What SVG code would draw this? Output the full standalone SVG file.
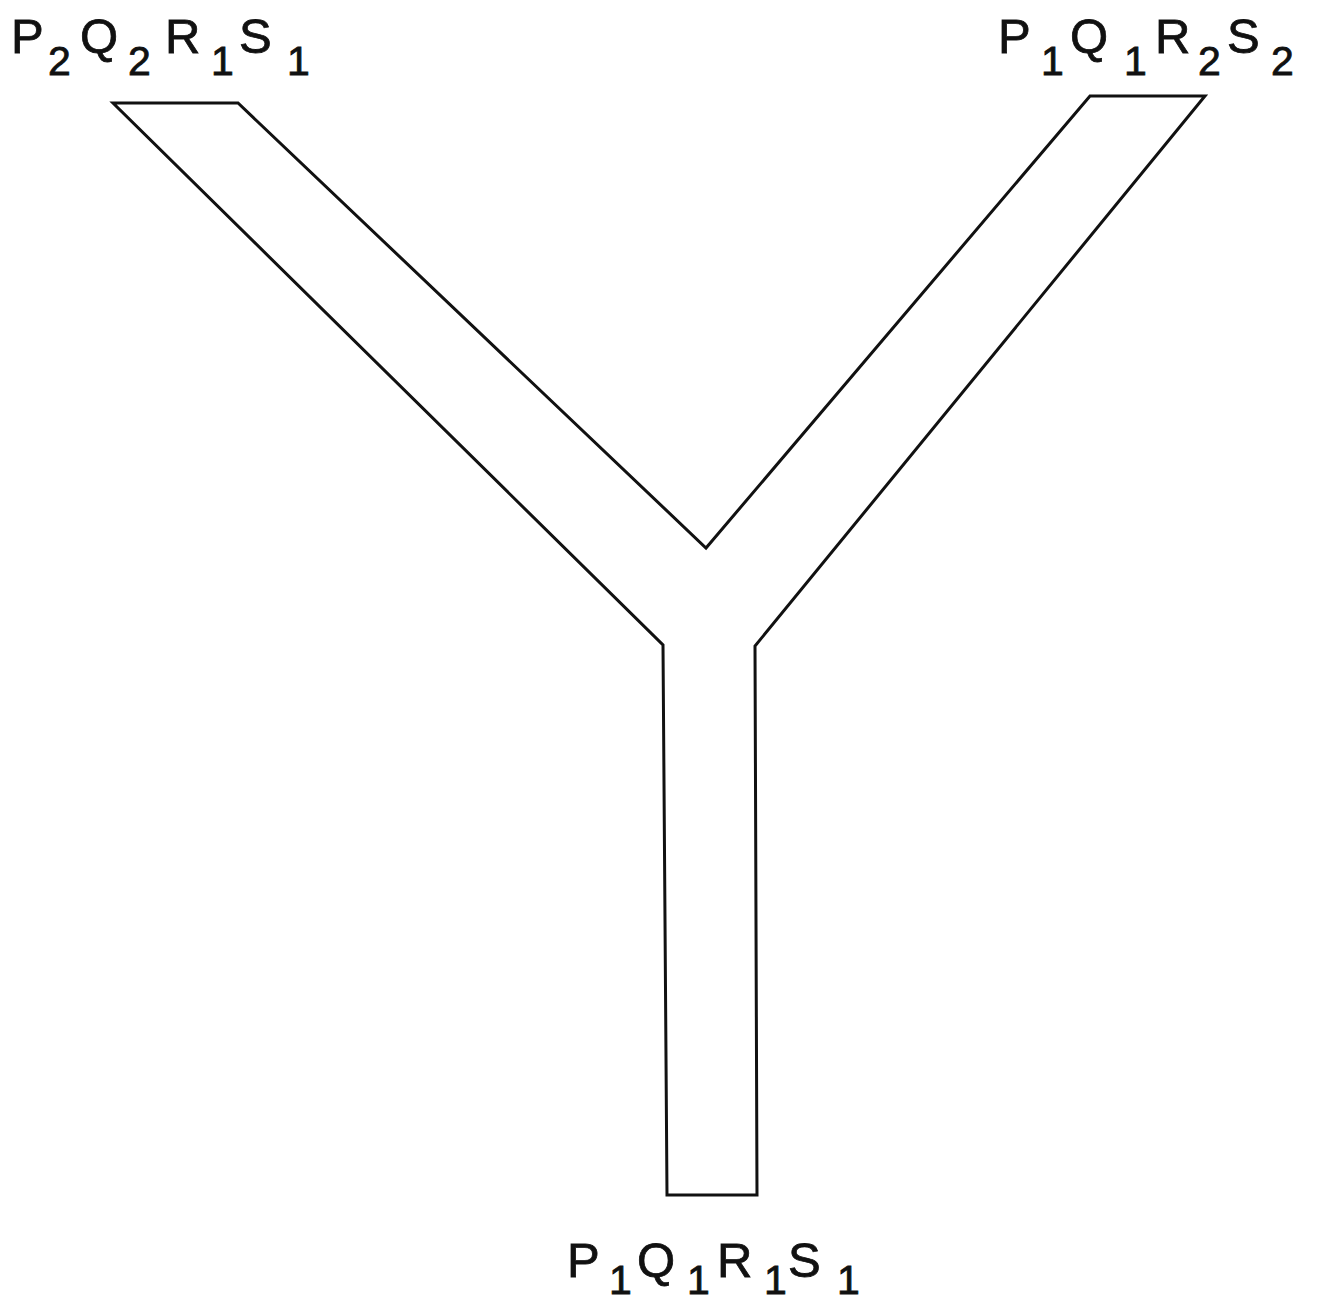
<svg xmlns="http://www.w3.org/2000/svg" width="1323" height="1305" viewBox="0 0 1323 1305">
<style>
.lbl{font-family:"Liberation Sans",Arial,sans-serif;font-size:49px;fill:#111;stroke:#111;stroke-width:0.8}
.sub{font-size:41px}
.shape{fill:none;stroke:#111;stroke-width:3;stroke-linejoin:miter}
</style>
<rect width="1323" height="1305" fill="#fff"/>
<g id="tube">
<path class="shape" d="M113,103 L238,103 L706,548 L1090,96 L1205,96 L755,646 L757,1195 L667,1195 L663,645 Z"/>
</g>
<g id="label-left">
<text class="lbl" y="53"><tspan x="11">P</tspan><tspan class="sub" x="48" y="75">2</tspan><tspan x="80" y="53">Q</tspan><tspan class="sub" x="128" y="75">2</tspan><tspan x="165" y="53">R</tspan><tspan class="sub" x="211" y="75">1</tspan><tspan x="239" y="53">S</tspan><tspan class="sub" x="287" y="75">1</tspan></text>
</g>
<g id="label-right">
<text class="lbl" y="53"><tspan x="998">P</tspan><tspan class="sub" x="1041" y="75">1</tspan><tspan x="1070" y="53">Q</tspan><tspan class="sub" x="1124" y="75">1</tspan><tspan x="1155" y="53">R</tspan><tspan class="sub" x="1198" y="75">2</tspan><tspan x="1227" y="53">S</tspan><tspan class="sub" x="1271" y="75">2</tspan></text>
</g>
<g id="label-bottom">
<text class="lbl" y="1277"><tspan x="567">P</tspan><tspan class="sub" x="609" y="1294">1</tspan><tspan x="637" y="1277">Q</tspan><tspan class="sub" x="687" y="1294">1</tspan><tspan x="717" y="1277">R</tspan><tspan class="sub" x="764" y="1294">1</tspan><tspan x="788" y="1277">S</tspan><tspan class="sub" x="837" y="1294">1</tspan></text>
</g>
</svg>
